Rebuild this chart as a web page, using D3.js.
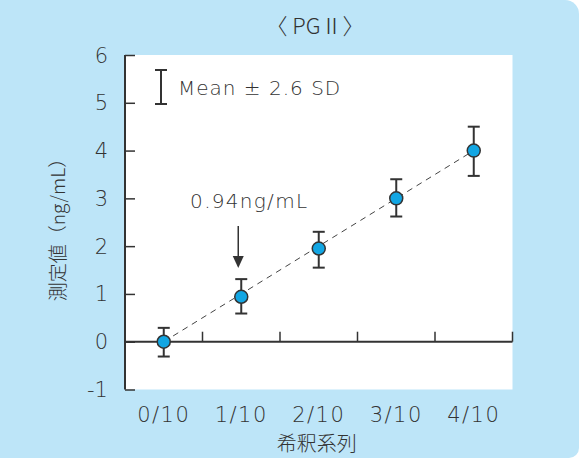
<!DOCTYPE html>
<html>
<head>
<meta charset="utf-8">
<script src="https://cdn.jsdelivr.net/npm/d3@7"></script>
<style>
  body { margin: 0; background: #fff; }
  svg text { fill: #333; }
</style>
</head>
<body>
<div id="chart"></div>
<script>

// data
var categories = ["0/10", "1/10", "2/10", "3/10", "4/10"];
var means = [0, 0.94, 1.95, 3.0, 4.0];
var lower = [-0.31, 0.59, 1.55, 2.62, 3.47];
var upper = [0.29, 1.31, 2.3, 3.4, 4.5];
var yTicks = [-1, 0, 1, 2, 3, 4, 5, 6];

var titleText = "〈 PGⅡ〉";
var xAxisLabel = "希釈系列";
var yAxisLabel = "測定値（ng/mL）";
var legendText = "Mean ± 2.6 SD";
var noteText = "0.94ng/mL";

var width = 579,
    height = 458,
    margin = {top: 55, right: 66.5, bottom: 68.5, left: 125},
    innerWidth = width - margin.left - margin.right,
    innerHeight = height - margin.top - margin.bottom;

var numFont = "'DejaVu Sans', sans-serif";
var numWeight = 200;
var jpFont = "'Noto Sans CJK JP', sans-serif";
var ink = "#333";

var data = categories.map(function(c, i) {
  return {cat: c, mean: means[i], lo: lower[i], hi: upper[i]};
});

var xScale = d3.scaleBand().domain(categories).range([0, innerWidth]).padding(0);
var yScale = d3.scaleLinear().domain([-1, 6]).range([innerHeight, 0]);

function X(d) { return xScale(d.cat) + xScale.bandwidth() / 2; }

var svg = d3.select("#chart").append("svg")
    .attr("width", width)
    .attr("height", height);

// panel background, right corners rounded
var rTop = 14, rBot = 10;
var panel = d3.path();
panel.moveTo(0, 0);
panel.lineTo(width - rTop, 0);
panel.arcTo(width, 0, width, rTop, rTop);
panel.lineTo(width, height - rBot);
panel.arcTo(width, height, width - rBot, height, rBot);
panel.lineTo(0, height);
panel.closePath();
svg.append("path")
    .attr("d", panel.toString())
    .attr("fill", "#bde5f8");

var g = svg.append("g")
    .attr("transform", "translate(" + margin.left + "," + margin.top + ")");

// white plot area
g.append("rect")
    .attr("x", 0).attr("y", 0)
    .attr("width", innerWidth).attr("height", innerHeight)
    .attr("fill", "#fff");

// title
svg.append("text")
    .attr("x", 315).attr("y", 34)
    .attr("text-anchor", "middle")
    .attr("font-family", jpFont)
    .attr("font-weight", 300)
    .attr("font-size", "22px")
    .text(titleText);

// y axis, ticks point inward; labels drawn separately below
var yAxisG = g.append("g")
    .call(d3.axisLeft(yScale).tickValues(yTicks).tickSize(-10).tickFormat(""));
yAxisG.select(".domain").attr("stroke", ink).attr("stroke-width", 2)
    .attr("d", "M0," + yScale(6) + "V" + yScale(-1));
yAxisG.selectAll(".tick line").attr("stroke", ink).attr("stroke-width", 1.5);
yAxisG.selectAll(".tick text").remove();

g.selectAll(".ylabel").data(yTicks).enter().append("text")
    .attr("class", "ylabel")
    .attr("x", -17)
    .attr("y", function(d) { return yScale(d); })
    .attr("dy", "0.36em")
    .attr("text-anchor", "end")
    .attr("font-family", numFont)
    .attr("font-weight", numWeight)
    .attr("font-size", "21px")
    .text(function(d) { return String(d); });

// x axis sits at y = 0, ticks between bands pointing up
var bounds = categories.map(function(c) { return xScale(c) + xScale.bandwidth(); });
var xAxisG = g.append("g").attr("transform", "translate(0," + yScale(0) + ")");
xAxisG.append("line")
    .attr("x1", 0).attr("x2", innerWidth)
    .attr("stroke", ink).attr("stroke-width", 2);
xAxisG.selectAll(".xtick").data(bounds).enter().append("line")
    .attr("class", "xtick")
    .attr("x1", function(d) { return d; }).attr("x2", function(d) { return d; })
    .attr("y1", 0).attr("y2", -10)
    .attr("stroke", ink).attr("stroke-width", 1.5);

// category labels under the plot
g.selectAll(".xlabel").data(categories).enter().append("text")
    .attr("class", "xlabel")
    .attr("x", function(d) { return xScale(d) + xScale.bandwidth() / 2; })
    .attr("y", innerHeight + 32)
    .attr("text-anchor", "middle")
    .attr("font-family", numFont)
    .attr("font-weight", numWeight)
    .attr("font-size", "21px")
    .attr("letter-spacing", "1.5px")
    .text(function(d) { return d; });

svg.append("text")
    .attr("x", margin.left + innerWidth / 2 - 2).attr("y", 451)
    .attr("text-anchor", "middle")
    .attr("font-family", jpFont)
    .attr("font-weight", 300)
    .attr("font-size", "20px")
    .text(xAxisLabel);

svg.append("text")
    .attr("transform", "translate(65,225) rotate(-90)")
    .attr("text-anchor", "middle")
    .attr("font-family", jpFont)
    .attr("font-weight", 300)
    .attr("font-size", "19px")
    .text(yAxisLabel);

// dashed fit line
var first = data[0], last = data[data.length - 1];
g.append("line")
    .attr("x1", X(first)).attr("y1", yScale(first.mean))
    .attr("x2", X(last)).attr("y2", yScale(last.mean))
    .attr("stroke", "#444").attr("stroke-width", 1)
    .attr("stroke-dasharray", "6,5");

// error bars
var capW = 6;
var bars = g.selectAll(".err").data(data).enter().append("g").attr("class", "err");
bars.append("line")
    .attr("x1", X).attr("x2", X)
    .attr("y1", function(d) { return yScale(d.hi); })
    .attr("y2", function(d) { return yScale(d.lo); });
bars.append("line")
    .attr("x1", function(d) { return X(d) - capW; }).attr("x2", function(d) { return X(d) + capW; })
    .attr("y1", function(d) { return yScale(d.hi); }).attr("y2", function(d) { return yScale(d.hi); });
bars.append("line")
    .attr("x1", function(d) { return X(d) - capW; }).attr("x2", function(d) { return X(d) + capW; })
    .attr("y1", function(d) { return yScale(d.lo); }).attr("y2", function(d) { return yScale(d.lo); });
bars.selectAll("line").attr("stroke", ink).attr("stroke-width", 2);

// points
g.selectAll(".pt").data(data).enter().append("circle")
    .attr("class", "pt")
    .attr("cx", X)
    .attr("cy", function(d) { return yScale(d.mean); })
    .attr("r", 6.5)
    .attr("fill", "#12a6e3")
    .attr("stroke", ink)
    .attr("stroke-width", 1.5);

// legend
var lg = svg.append("g").attr("transform", "translate(161,70)");
lg.append("line").attr("x1", 0).attr("x2", 0).attr("y1", 0).attr("y2", 34);
lg.append("line").attr("x1", -6).attr("x2", 6).attr("y1", 0).attr("y2", 0);
lg.append("line").attr("x1", -6).attr("x2", 6).attr("y1", 34).attr("y2", 34);
lg.selectAll("line").attr("stroke", ink).attr("stroke-width", 2);
lg.append("text")
    .attr("x", 17).attr("y", 25)
    .attr("font-family", numFont)
    .attr("font-weight", numWeight)
    .attr("font-size", "20px")
    .attr("letter-spacing", "1px")
    .text(legendText);

// annotation for 1/10
var note = data[1];
var nx = X(note);
g.append("text")
    .attr("x", nx + 8).attr("y", 208 - margin.top)
    .attr("text-anchor", "middle")
    .attr("font-family", numFont)
    .attr("font-weight", numWeight)
    .attr("font-size", "20px")
    .attr("letter-spacing", "1.3px")
    .text(noteText);
g.append("line")
    .attr("x1", nx - 3).attr("x2", nx - 3)
    .attr("y1", 226 - margin.top).attr("y2", 258 - margin.top)
    .attr("stroke", ink).attr("stroke-width", 1.5);
g.append("path")
    .attr("d", "M" + (nx - 8.5) + "," + (256 - margin.top) + "L" + (nx + 2.5) + "," + (256 - margin.top) + "L" + (nx - 3) + "," + (268 - margin.top) + "Z")
    .attr("fill", ink);

</script>
</body>
</html>
